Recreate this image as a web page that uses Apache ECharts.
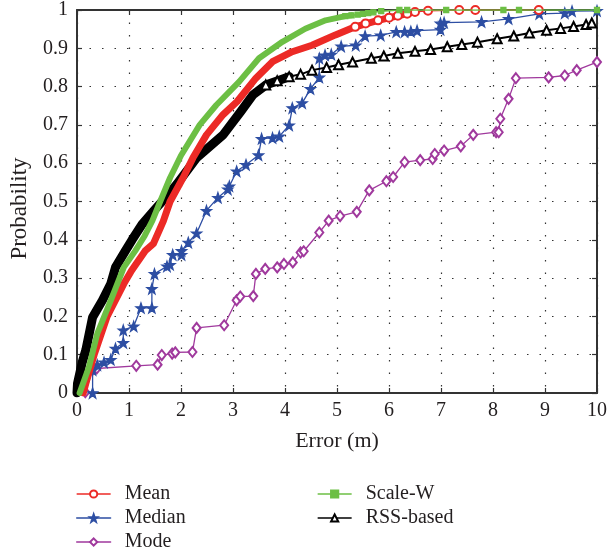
<!DOCTYPE html>
<html>
<head>
<meta charset="utf-8">
<script src="https://cdn.jsdelivr.net/npm/echarts@6/dist/echarts.min.js"></script>
<style>html,body{margin:0;padding:0;background:#fff;}#c{width:610px;height:560px;}</style>
</head>
<body>
<div id="c"></div>
<script>
// ---- data (x = error in m, y = cumulative probability) ----
var xTicks = [0,1,2,3,4,5,6,7,8,9,10];
var yTicks = [0,0.1,0.2,0.3,0.4,0.5,0.6,0.7,0.8,0.9,1];

var meanDense = [[0.12,0],[0.17,0.025],[0.33,0.1],[0.58,0.2],[0.9,0.285],[1.05,0.32],[1.31,0.371],[1.47,0.39],[1.66,0.449],[1.79,0.5],[2.04,0.562],[2.23,0.614],[2.49,0.674],[2.81,0.727],[3.08,0.761],[3.44,0.822],[3.76,0.865],[4.14,0.891],[4.52,0.908],[4.97,0.935],[5.35,0.956],[5.79,0.973],[6.17,0.985],[6.5,0.995]];
var meanTail = [[5.35,0.956],[5.55,0.965],[5.79,0.973],[6.0,0.98],[6.17,0.985],[6.35,0.99],[6.5,0.995],[6.75,0.998],[7.35,1],[7.66,1],[8.88,1]];

var medianData = [[0.3,0],[0.3,0.06],[0.39,0.073],[0.52,0.08],[0.65,0.087],[0.74,0.116],[0.89,0.131],[0.89,0.164],[1.09,0.174],[1.23,0.222],[1.44,0.222],[1.44,0.272],[1.49,0.311],[1.73,0.331],[1.79,0.335],[1.84,0.361],[2.01,0.361],[2.01,0.371],[2.14,0.393],[2.3,0.417],[2.49,0.476],[2.71,0.51],[2.9,0.532],[2.93,0.54],[3.07,0.579],[3.25,0.596],[3.49,0.621],[3.55,0.664],[3.76,0.666],[3.89,0.67],[4.08,0.699],[4.14,0.744],[4.33,0.757],[4.49,0.794],[4.66,0.824],[4.66,0.874],[4.77,0.882],[4.89,0.884],[5.08,0.905],[5.36,0.908],[5.54,0.932],[5.84,0.934],[6.14,0.943],[6.3,0.943],[6.42,0.944],[6.54,0.946],[6.99,0.949],[6.99,0.965],[7.06,0.967],[7.78,0.969],[8.3,0.977],[8.89,0.99],[9.38,0.992],[9.52,0.997],[10,0.998]];

var modeData = [[0.16,0.002],[0.3,0.061],[0.38,0.064],[1.14,0.071],[1.55,0.074],[1.63,0.099],[1.83,0.103],[1.89,0.106],[2.22,0.107],[2.3,0.17],[2.83,0.177],[3.07,0.242],[3.14,0.252],[3.39,0.253],[3.44,0.311],[3.62,0.324],[3.85,0.328],[3.98,0.337],[4.15,0.341],[4.3,0.367],[4.36,0.37],[4.66,0.419],[4.84,0.45],[5.06,0.462],[5.38,0.473],[5.62,0.529],[5.95,0.553],[6.08,0.564],[6.3,0.603],[6.6,0.608],[6.84,0.611],[6.88,0.624],[7.06,0.633],[7.38,0.644],[7.62,0.674],[8.06,0.681],[8.11,0.681],[8.14,0.716],[8.3,0.768],[8.44,0.822],[9.07,0.824],[9.38,0.829],[9.61,0.843],[10,0.864]];

var scaleDense = [[0.05,0],[0.23,0.068],[0.39,0.155],[0.65,0.242],[0.9,0.328],[1.12,0.371],[1.3,0.41],[1.45,0.45],[1.6,0.5],[1.79,0.562],[2.0,0.62],[2.36,0.7],[2.68,0.752],[3.12,0.813],[3.5,0.874],[3.95,0.917],[4.39,0.951],[4.78,0.973],[5.16,0.984],[5.28,0.986]];
var scaleTail = [[5.16,0.984],[5.28,0.986],[5.4,0.988],[5.5,0.99],[5.6,0.992],[5.7,0.994],[5.85,0.997],[6.2,1],[6.35,1],[7.1,1],[8.2,1],[8.5,1],[10,1]];

var rssDense = [[0,0],[0.01,0.025],[0.1,0.08],[0.17,0.112],[0.3,0.198],[0.49,0.242],[0.65,0.285],[0.74,0.328],[0.93,0.371],[1.06,0.4],[1.25,0.44],[1.47,0.475],[1.7,0.51],[1.92,0.545],[2.3,0.614],[2.81,0.674],[3.15,0.735],[3.38,0.778],[3.63,0.804],[4.08,0.826]];
var rssTail = [[3.63,0.804],[3.85,0.815],[4.08,0.826],[4.3,0.832],[4.52,0.843],[4.8,0.85],[5.03,0.857],[5.3,0.864],[5.66,0.874],[5.9,0.88],[6.17,0.887],[6.5,0.892],[6.8,0.897],[7.12,0.904],[7.4,0.91],[7.7,0.916],[8.08,0.925],[8.4,0.932],[8.7,0.94],[9.03,0.947],[9.3,0.952],[9.55,0.957],[9.79,0.962],[9.9,0.966]];

var colors = {Mean:'#ec2a26', Median:'#2d4ea3', Mode:'#a0399d', 'Scale-W':'#6cbf44', 'RSS-based':'#000000'};
var starPath = 'path://M0,-10L2.35,-3.24L9.51,-3.09L3.8,1.24L5.88,8.09L0,4L-5.88,8.09L-3.8,1.24L-9.51,-3.09L-2.35,-3.24Z';

var FONT = 'Liberation Serif';
var TXT = '#231f20';
var chart = echarts.init(document.getElementById('c'), null, {renderer:'canvas'});

function ser(name, data, opt) {
  var c = colors[name];
  return Object.assign({
    name: name, type: 'line', data: data, xAxisIndex: 0, yAxisIndex: 0,
    showAllSymbol: true, animation: false, z: 3,
    lineStyle: {color: c, width: 1.3, cap: 'round', join: 'round'},
    itemStyle: {color: c, borderColor: c, borderWidth: 1.3}
  }, opt);
}

var option = {
  backgroundColor: '#fff',
  animation: false,
  grid: {left: 76, right: 9, top: 8, bottom: 167, containLabel: false},
  xAxis: [{
    type: 'value', min: 0, max: 10, interval: 1, position: 'bottom',
    name: 'Error (m)', nameLocation: 'middle', nameGap: 37,
    nameTextStyle: {fontFamily: FONT, fontSize: 22, color: TXT},
    axisLine: {show: true, lineStyle: {color: '#333', width: 2}},
    axisTick: {show: true, inside: true, length: 5, lineStyle: {color: '#333', width: 1.2}},
    axisLabel: {fontFamily: FONT, fontSize: 20, color: TXT, margin: 8,
      formatter: function(v){ return xTicks.indexOf(v) >= 0 ? String(v) : ''; }},
    splitLine: {show: true, lineStyle: {type: [1.5, 11], color: '#333', width: 1.2}}
  },{
    type: 'value', min: 0, max: 10, interval: 1, position: 'top',
    axisLine: {show: true, onZero: false, lineStyle: {color: '#333', width: 2}},
    axisTick: {show: true, inside: true, length: 5, lineStyle: {color: '#333', width: 1.2}},
    axisLabel: {show: false}, splitLine: {show: false}
  }],
  yAxis: [{
    type: 'value', min: 0, max: 1, interval: 0.1, position: 'left',
    name: 'Probability', nameLocation: 'middle', nameGap: 46,
    nameTextStyle: {fontFamily: FONT, fontSize: 23, color: TXT, padding: [0, 14, 0, 0]},
    axisLine: {show: true, lineStyle: {color: '#333', width: 2}},
    axisTick: {show: true, inside: true, length: 5, lineStyle: {color: '#333', width: 1.2}},
    axisLabel: {fontFamily: FONT, fontSize: 20, color: TXT, margin: 9,
      formatter: function(v){ var r = Math.round(v*10)/10; return yTicks.indexOf(r) >= 0 ? String(r) : ''; }},
    splitLine: {show: true, lineStyle: {type: [1.5, 11], color: '#333', width: 1.2}}
  },{
    type: 'value', min: 0, max: 1, interval: 0.1, position: 'right',
    axisLine: {show: true, onZero: false, lineStyle: {color: '#333', width: 2}},
    axisTick: {show: true, inside: true, length: 5, lineStyle: {color: '#333', width: 1.2}},
    axisLabel: {show: false}, splitLine: {show: false}
  }],
  legend: [{
    data: ['Mean','Median','Mode'], orient: 'vertical', left: 71, top: 479,
    itemGap: 4, itemWidth: 34, itemHeight: 9,
    textStyle: {fontFamily: FONT, fontSize: 20, color: TXT, padding: [0,0,0,9]},
    lineStyle: {width: 1.3}
  },{
    data: ['Scale-W','RSS-based'], orient: 'vertical', left: 312, top: 479,
    itemGap: 4, itemWidth: 34, itemHeight: 9,
    textStyle: {fontFamily: FONT, fontSize: 20, color: TXT, padding: [0,0,0,9]},
    lineStyle: {width: 1.3}
  }],
  series: [
    ser('Mean', meanTail, {symbol: 'emptyCircle', symbolSize: 8, z: 5,
      lineStyle: {color: colors.Mean, width: 1.3}, itemStyle: {color: colors.Mean, borderColor: colors.Mean, borderWidth: 1.5}}),
    ser('Median', medianData, {symbol: starPath, symbolSize: 10, z: 3}),
    ser('Mode', modeData, {symbol: 'emptyDiamond', symbolSize: [8,10], z: 2}),
    ser('Scale-W', scaleTail, {symbol: 'rect', symbolSize: 5, z: 6,
      lineStyle: {color: colors['Scale-W'], width: 1.5}}),
    ser('RSS-based', rssTail, {symbol: 'emptyTriangle', symbolSize: 9, z: 4,
      lineStyle: {color: '#000', width: 2}, itemStyle: {color: '#000', borderColor: '#000', borderWidth: 1.5}}),
    ser('RSS-based', rssDense, {symbol: 'none', z: 4,
      lineStyle: {color: '#000', width: 9, cap: 'round', join: 'round'}}),
    ser('Mean', meanDense, {symbol: 'none', z: 5,
      lineStyle: {color: colors.Mean, width: 7, cap: 'round', join: 'round'}}),
    ser('Scale-W', scaleDense, {symbol: 'none', z: 6,
      lineStyle: {color: colors['Scale-W'], width: 6, cap: 'round', join: 'round'}})
  ]
};
chart.setOption(option);
</script>
</body>
</html>
